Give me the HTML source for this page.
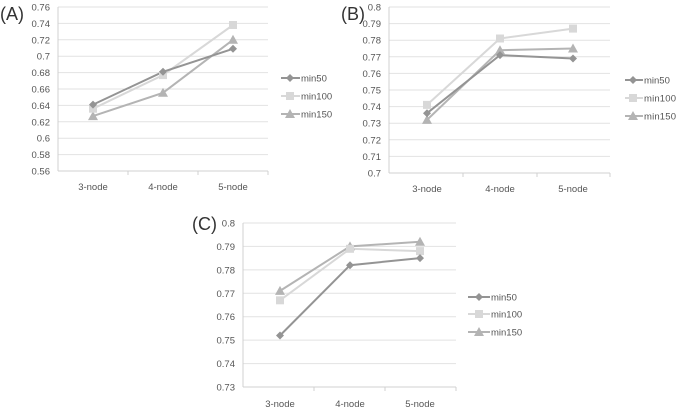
<!DOCTYPE html>
<html><head><style>
html,body{margin:0;padding:0;background:#fff;}
svg{display:block;font-family:"Liberation Sans",sans-serif;}
.t{font-size:9.5px;fill:#555;}
.p{font-size:18px;fill:#333;}
.g{stroke:#e2e2e2;stroke-width:1;}
.a{stroke:#d0d0d0;stroke-width:1;}
.s1{stroke:#949494;stroke-width:2;fill:none;}
.s2{stroke:#d8d8d8;stroke-width:2;fill:none;}
.s3{stroke:#b4b4b4;stroke-width:2;fill:none;}
</style></head><body>
<svg width="677" height="408" viewBox="0 0 677 408">
<defs>
<path id="d1" d="M0,-4L4,0L0,4L-4,0Z" fill="#949494"/>
<rect id="d2" x="-4" y="-4" width="8" height="8" fill="#d8d8d8"/>
<path id="d3" d="M0,-5L5,4L-5,4Z" fill="#b4b4b4"/>
</defs>
<!-- Chart A -->
<text class="p" x="0" y="20">(A)</text>
<g>
<line class="g" x1="58" x2="268" y1="7" y2="7"/><line class="g" x1="58" x2="268" y1="23.4" y2="23.4"/><line class="g" x1="58" x2="268" y1="39.8" y2="39.8"/><line class="g" x1="58" x2="268" y1="56.2" y2="56.2"/><line class="g" x1="58" x2="268" y1="72.6" y2="72.6"/><line class="g" x1="58" x2="268" y1="89" y2="89"/><line class="g" x1="58" x2="268" y1="105.4" y2="105.4"/><line class="g" x1="58" x2="268" y1="121.8" y2="121.8"/><line class="g" x1="58" x2="268" y1="138.2" y2="138.2"/><line class="g" x1="58" x2="268" y1="154.6" y2="154.6"/>
<line class="a" x1="58" x2="268" y1="171" y2="171"/><line class="a" x1="58" x2="58" y1="7" y2="171"/>
<line class="a" x1="128" x2="128" y1="171" y2="175"/><line class="a" x1="198" x2="198" y1="171" y2="175"/><line class="a" x1="268" x2="268" y1="171" y2="175"/>
<g class="t" text-anchor="end">
<text x="50" y="10.5">0.76</text><text x="50" y="26.9">0.74</text><text x="50" y="43.3">0.72</text><text x="50" y="59.7">0.7</text><text x="50" y="76.1">0.68</text><text x="50" y="92.5">0.66</text><text x="50" y="108.9">0.64</text><text x="50" y="125.3">0.62</text><text x="50" y="141.7">0.6</text><text x="50" y="158.1">0.58</text><text x="50" y="174.5">0.56</text>
</g>
<g class="t" text-anchor="middle"><text x="93" y="190">3-node</text><text x="163" y="190">4-node</text><text x="233" y="190">5-node</text></g>
<polyline class="s3" points="93,116.1 163,92.8 233,39.8"/>
<polyline class="s2" points="93,108.7 163,75.1 233,25"/>
<polyline class="s1" points="93,104.6 163,71.8 233,48.8"/>
<use href="#d3" x="93" y="116.1"/><use href="#d3" x="163" y="92.8"/><use href="#d3" x="233" y="39.8"/>
<use href="#d2" x="93" y="108.7"/><use href="#d2" x="163" y="75.1"/><use href="#d2" x="233" y="25"/>
<use href="#d1" x="93" y="104.6"/><use href="#d1" x="163" y="71.8"/><use href="#d1" x="233" y="48.8"/>
<line class="s1" x1="281" x2="300" y1="78" y2="78"/><use href="#d1" x="290" y="78"/><text class="t" x="301" y="81.5">min50</text>
<line class="s2" x1="281" x2="300" y1="96" y2="96"/><use href="#d2" x="290" y="96"/><text class="t" x="301" y="99.5">min100</text>
<line class="s3" x1="281" x2="300" y1="114" y2="114"/><use href="#d3" x="290" y="114"/><text class="t" x="301" y="117.5">min150</text>
</g>
<!-- Chart B -->
<text class="p" x="341" y="20">(B)</text>
<g>
<line class="g" x1="389" x2="610" y1="7" y2="7"/><line class="g" x1="389" x2="610" y1="23.6" y2="23.6"/><line class="g" x1="389" x2="610" y1="40.2" y2="40.2"/><line class="g" x1="389" x2="610" y1="56.8" y2="56.8"/><line class="g" x1="389" x2="610" y1="73.4" y2="73.4"/><line class="g" x1="389" x2="610" y1="90" y2="90"/><line class="g" x1="389" x2="610" y1="106.6" y2="106.6"/><line class="g" x1="389" x2="610" y1="123.2" y2="123.2"/><line class="g" x1="389" x2="610" y1="139.8" y2="139.8"/><line class="g" x1="389" x2="610" y1="156.4" y2="156.4"/>
<line class="a" x1="389" x2="610" y1="173" y2="173"/><line class="a" x1="389" x2="389" y1="7" y2="173"/>
<line class="a" x1="463" x2="463" y1="173" y2="177"/><line class="a" x1="537" x2="537" y1="173" y2="177"/><line class="a" x1="610" x2="610" y1="173" y2="177"/>
<g class="t" text-anchor="end">
<text x="381" y="10.5">0.8</text><text x="381" y="27.1">0.79</text><text x="381" y="43.7">0.78</text><text x="381" y="60.3">0.77</text><text x="381" y="76.9">0.76</text><text x="381" y="93.5">0.75</text><text x="381" y="110.1">0.74</text><text x="381" y="126.7">0.73</text><text x="381" y="143.3">0.72</text><text x="381" y="159.9">0.71</text><text x="381" y="176.5">0.7</text>
</g>
<g class="t" text-anchor="middle"><text x="427" y="192">3-node</text><text x="500" y="192">4-node</text><text x="573" y="192">5-node</text></g>
<polyline class="s3" points="427,119.9 500,50.2 573,48.5"/>
<polyline class="s2" points="427,104.9 500,38.5 573,28.6"/>
<polyline class="s1" points="427,113.2 500,55.1 573,58.5"/>
<use href="#d3" x="427" y="119.9"/><use href="#d3" x="500" y="50.2"/><use href="#d3" x="573" y="48.5"/>
<use href="#d2" x="427" y="104.9"/><use href="#d2" x="500" y="38.5"/><use href="#d2" x="573" y="28.6"/>
<use href="#d1" x="427" y="113.2"/><use href="#d1" x="500" y="55.1"/><use href="#d1" x="573" y="58.5"/>
<line class="s1" x1="625" x2="643" y1="80" y2="80"/><use href="#d1" x="633" y="80"/><text class="t" x="644" y="83.5">min50</text>
<line class="s2" x1="625" x2="643" y1="98" y2="98"/><use href="#d2" x="633" y="98"/><text class="t" x="644" y="101.5" textLength="32">min100</text>
<line class="s3" x1="625" x2="643" y1="116" y2="116"/><use href="#d3" x="633" y="116"/><text class="t" x="644" y="119.5" textLength="32">min150</text>
</g>
<!-- Chart C -->
<text class="p" x="192" y="230">(C)</text>
<g>
<line class="g" x1="243" x2="456" y1="223" y2="223"/><line class="g" x1="243" x2="456" y1="246.4" y2="246.4"/><line class="g" x1="243" x2="456" y1="269.9" y2="269.9"/><line class="g" x1="243" x2="456" y1="293.3" y2="293.3"/><line class="g" x1="243" x2="456" y1="316.7" y2="316.7"/><line class="g" x1="243" x2="456" y1="340.1" y2="340.1"/><line class="g" x1="243" x2="456" y1="363.6" y2="363.6"/>
<line class="a" x1="243" x2="456" y1="387" y2="387"/><line class="a" x1="243" x2="243" y1="223" y2="387"/>
<line class="a" x1="314" x2="314" y1="387" y2="391"/><line class="a" x1="385" x2="385" y1="387" y2="391"/><line class="a" x1="456" x2="456" y1="387" y2="391"/>
<g class="t" text-anchor="end">
<text x="235" y="226.5">0.8</text><text x="235" y="249.9">0.79</text><text x="235" y="273.4">0.78</text><text x="235" y="296.8">0.77</text><text x="235" y="320.2">0.76</text><text x="235" y="343.6">0.75</text><text x="235" y="367.1">0.74</text><text x="235" y="390.5">0.73</text>
</g>
<g class="t" text-anchor="middle"><text x="280" y="407">3-node</text><text x="350" y="407">4-node</text><text x="420" y="407">5-node</text></g>
<polyline class="s3" points="280,290.9 350,246.4 420,241.7"/>
<polyline class="s2" points="280,300.3 350,248.8 420,251.1"/>
<polyline class="s1" points="280,335.5 350,265.2 420,258.1"/>
<use href="#d3" x="280" y="290.9"/><use href="#d3" x="350" y="246.4"/><use href="#d3" x="420" y="241.7"/>
<use href="#d2" x="280" y="300.3"/><use href="#d2" x="350" y="248.8"/><use href="#d2" x="420" y="251.1"/>
<use href="#d1" x="280" y="335.5"/><use href="#d1" x="350" y="265.2"/><use href="#d1" x="420" y="258.1"/>
<line class="s1" x1="468" x2="490" y1="297" y2="297"/><use href="#d1" x="479" y="297"/><text class="t" x="491" y="300.5">min50</text>
<line class="s2" x1="468" x2="490" y1="314" y2="314"/><use href="#d2" x="479" y="314"/><text class="t" x="491" y="317.5">min100</text>
<line class="s3" x1="468" x2="490" y1="332" y2="332"/><use href="#d3" x="479" y="332"/><text class="t" x="491" y="335.5">min150</text>
</g>
</svg>
</body></html>
